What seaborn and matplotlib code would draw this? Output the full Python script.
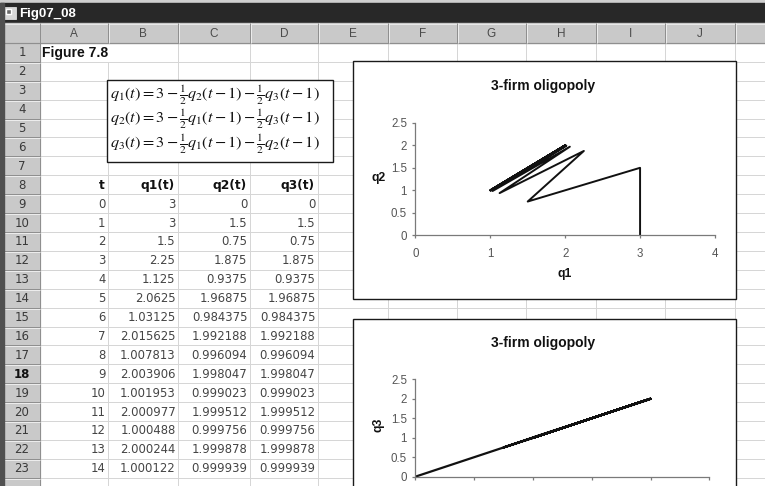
import matplotlib
matplotlib.use("Agg")
import matplotlib.pyplot as plt
from matplotlib.patches import Rectangle
import pandas as pd
import seaborn as sns

# ---------------- data ----------------
t_vals = list(range(15))
q1 = [3, 3, 1.5, 2.25, 1.125, 2.0625, 1.03125, 2.015625, 1.007813, 2.003906,
      1.001953, 2.000977, 1.000488, 2.000244, 1.000122]
q2 = [0, 1.5, 0.75, 1.875, 0.9375, 1.96875, 0.984375, 1.992188, 0.996094,
      1.998047, 0.999023, 1.999512, 0.999756, 1.999878, 0.999939]
q3 = [0, 1.5, 0.75, 1.875, 0.9375, 1.96875, 0.984375, 1.992188, 0.996094,
      1.998047, 0.999023, 1.999512, 0.999756, 1.999878, 0.999939]
col_letters = ["A", "B", "C", "D", "E", "F", "G", "H", "I", "J"]
table_headers = ["t", "q1(t)", "q2(t)", "q3(t)"]
window_title = "Fig07_08"
sheet_title = "Figure 7.8"
chart_title = "3-firm oligopoly"
equations = [
    r"$q_1(t) = 3 - \frac{1}{2}q_2(t-1) - \frac{1}{2}q_3(t-1)$",
    r"$q_2(t) = 3 - \frac{1}{2}q_1(t-1) - \frac{1}{2}q_3(t-1)$",
    r"$q_3(t) = 3 - \frac{1}{2}q_1(t-1) - \frac{1}{2}q_2(t-1)$",
]
chart1_xticks = [0, 1, 2, 3, 4]
chart2_xticks = [0, 0.5, 1, 1.5, 2, 2.5]
yticks = [0, 0.5, 1, 1.5, 2, 2.5]

df = pd.DataFrame({"t": t_vals, "q1": q1, "q2": q2, "q3": q3})

# ---------------- style ----------------
sns.set_style("ticks")
plt.rcParams["font.family"] = ["Liberation Sans", "DejaVu Sans"]
plt.rcParams["mathtext.fontset"] = "stix"

W, H = 765, 486
fig = plt.figure(figsize=(W / 100, H / 100), dpi=100)
fig.patch.set_facecolor("white")
bg = fig.add_axes([0, 0, 1, 1])
bg.set_xlim(0, W)
bg.set_ylim(H, 0)
bg.axis("off")

col_edges = [40, 108, 178, 250, 318, 388, 457, 526, 596, 665, 735, 805]
hdr_top, hdr_bot = 23.5, 43.0
row_h = 18.9
n_rows = 24
row_top = [hdr_bot + i * row_h for i in range(n_rows + 1)]

grid_c = "#d6d6d6"
hdr_fill = "#c9c9c9"
hdr_line = "#8f8f8f"
px = 0.72  # 1 pixel in points
num_font = ["DejaVu Sans"]

def hline(x0, x1, y, c, w=1.0, z=1):
    bg.plot([x0, x1], [y, y], color=c, lw=w * px, zorder=z, solid_capstyle="butt")

def vline(x, y0, y1, c, w=1.0, z=1):
    bg.plot([x, x], [y0, y1], color=c, lw=w * px, zorder=z, solid_capstyle="butt")

# window chrome
bg.add_patch(Rectangle((0, 0), W, 3, color="#cfcfcf", zorder=0))
bg.add_patch(Rectangle((0, 3), W, 20.5, color="#282828", zorder=0))
bg.add_patch(Rectangle((4, 7), 12, 12, facecolor="#d8d8d8", edgecolor="#f0f0f0", lw=0.5, zorder=2))
bg.add_patch(Rectangle((6, 9), 5, 5, facecolor="#6a6a6a", zorder=3))
bg.text(19, 13.5, window_title, color="white", fontsize=9.5, fontweight="bold",
        va="center", ha="left", zorder=3)
bg.add_patch(Rectangle((0, 3), 4, H, color="#505050", zorder=4))

# cell gridlines
for i in range(n_rows + 1):
    hline(40, W, row_top[i], grid_c)
for j, x in enumerate(col_edges):
    for i in range(n_rows):
        if i == 0 and x == 108:
            continue  # text overflow from A1
        vline(x, row_top[i], row_top[i + 1], grid_c)

# column header
bg.add_patch(Rectangle((4, hdr_top), W, hdr_bot - hdr_top, color=hdr_fill, zorder=2))
hline(4, W, hdr_bot, hdr_line, 1.2, 3)
hline(4, W, hdr_top + 0.5, "#e8e8e8", 1, 3)
for j in range(len(col_edges) - 1):
    x0, x1 = col_edges[j], col_edges[j + 1]
    vline(x1, hdr_top, hdr_bot, hdr_line, 1, 3)
    vline(x1 + 1, hdr_top, hdr_bot, "#ececec", 1, 3)
    if j < len(col_letters):
        bg.text((x0 + x1) / 2, (hdr_top + hdr_bot) / 2 + 0.5, col_letters[j], ha="center",
                va="center", fontsize=8.5, color="#4a4a4a", zorder=4)
vline(40, hdr_top, H, hdr_line, 1, 3)

# row header
bg.add_patch(Rectangle((4, hdr_bot), 36, H - hdr_bot, color=hdr_fill, zorder=2))
for i in range(n_rows):
    hline(4, 40, row_top[i + 1], hdr_line, 1, 3)
    hline(4, 40, row_top[i + 1] + 1, "#ececec", 1, 3)
    if i < 23:
        bg.text(22, row_top[i] + row_h / 2 + 0.5, str(i + 1), ha="center", va="center",
                fontsize=8.5, family=num_font,
                color="#3a3a3a" if i != 17 else "#111111",
                fontweight="bold" if i == 17 else "normal", zorder=4)

def cell_y(row):
    return row_top[row - 1] + row_h / 2 + 0.5

def fmt(v):
    s = f"{v:.6f}".rstrip("0").rstrip(".")
    return s

# sheet content
bg.text(42, cell_y(1), sheet_title, ha="left", va="center", fontsize=10,
        fontweight="bold", color="#111111", zorder=5)
for j, h in enumerate(table_headers):
    bg.text(col_edges[j + 1] - 3, cell_y(8), h, ha="right", va="center",
            fontsize=8.8, fontweight="bold", family=num_font, color="#111111", zorder=5)
cols = [df["t"].tolist(), q1, q2, q3]
for i in range(len(t_vals)):
    for j in range(4):
        v = cols[j][i]
        s = str(v) if j == 0 else fmt(v)
        bg.text(col_edges[j + 1] - 2.5, cell_y(9 + i), s, ha="right", va="center",
                fontsize=8.4, family=num_font, color="#444444", zorder=5)

# equation box
bg.add_patch(Rectangle((107.5, 80), 226, 82, facecolor="white", edgecolor="#1a1a1a",
                       lw=1.0, zorder=6))
for k, (eq, y) in enumerate(zip(equations, [95.5, 119, 144.5])):
    bg.text(110, y, eq, ha="left", va="center", fontsize=11.7, color="#111111", zorder=7)

# chart frames
bg.add_patch(Rectangle((353, 61), 383, 238, facecolor="white", edgecolor="#1a1a1a",
                       lw=1.0, zorder=6))
bg.add_patch(Rectangle((353, 318.5), 383, 200, facecolor="white", edgecolor="#1a1a1a",
                       lw=1.0, zorder=6))
bg.text(543.5, 86, chart_title, ha="center", va="center", fontsize=10,
        fontweight="bold", color="#111111", zorder=7)
bg.text(543.5, 342.5, chart_title, ha="center", va="center", fontsize=10,
        fontweight="bold", color="#111111", zorder=7)

def pix_axes(x0, x1, y0, y1):
    return fig.add_axes([x0 / W, 1 - y0 / H, (x1 - x0) / W, (y0 - y1) / H])

def style_axes(ax):
    ax.patch.set_alpha(0)
    for s in ["top", "right"]:
        ax.spines[s].set_visible(False)
    for s in ["left", "bottom"]:
        ax.spines[s].set_color("#7a7a7a")
        ax.spines[s].set_linewidth(0.9)
    ax.tick_params(axis="both", direction="out", length=2.5, width=0.9,
                   color="#7a7a7a", labelsize=8.3, labelcolor="#555555")
    ax.tick_params(axis="x", pad=7)
    ax.tick_params(axis="y", pad=3.5)

# chart 1: q2 vs q1
ax1 = pix_axes(415.3, 715.0, 235.3, 122.8)
sns.lineplot(data=df, x="q1", y="q2", sort=False, estimator=None, color="#111111",
             lw=1.4, ax=ax1)
ax1.set_xlim(0, 4)
ax1.set_ylim(0, 2.5)
ax1.set_xticks(chart1_xticks)
ax1.set_xticklabels([fmt(v) for v in chart1_xticks])
ax1.set_yticks(yticks)
ax1.set_yticklabels([fmt(v) for v in yticks])
style_axes(ax1)
ax1.set_xlabel("q1", fontsize=8.8, fontweight="bold", color="#111111")
ax1.xaxis.label.set_va("center")
ax1.xaxis.set_label_coords(0.5, -0.347)
ax1.set_ylabel("q2", fontsize=8.8, fontweight="bold", color="#111111", rotation=0)
ax1.yaxis.label.set_va("center")
ax1.yaxis.label.set_ha("center")
ax1.yaxis.set_label_coords(-0.1235, 0.507)

# chart 2: q3 vs q2 (its x tick labels fall below the visible window)
ax2 = pix_axes(415.3, 709.3, 476.7, 379.3)
sns.lineplot(data=df, x="q2", y="q3", sort=False, estimator=None, color="#111111",
             lw=1.6, ax=ax2)
ax2.set_xlim(0, 2.5)
ax2.set_ylim(0, 2.5)
ax2.set_xticks(chart2_xticks)
ax2.set_xticklabels([])
ax2.set_yticks(yticks)
ax2.set_yticklabels([fmt(v) for v in yticks])
style_axes(ax2)
ax2.set_xlabel("")
ax2.set_ylabel("q3", fontsize=8.8, fontweight="bold", color="#111111", rotation=90)
ax2.yaxis.label.set_va("center")
ax2.yaxis.label.set_ha("center")
ax2.yaxis.set_label_coords(-0.126, 0.53)

fig.savefig("out.png", dpi=100)
